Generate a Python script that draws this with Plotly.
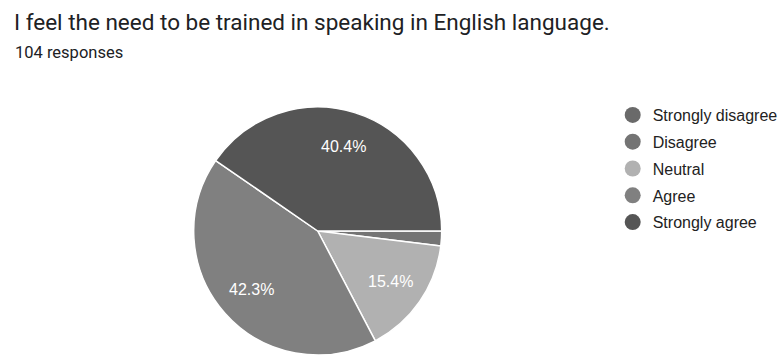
import math
import plotly.graph_objects as go

# Survey answers and response counts (104 responses in total)
labels = ["Strongly disagree", "Disagree", "Neutral", "Agree", "Strongly agree"]
counts = [0, 2, 16, 44, 42]
colors = ["#6a6a6a", "#747474", "#b1b1b1", "#808080", "#555555"]

title_text = "I feel the need to be trained in speaking in English language."
subtitle_text = "104 responses"

W, H = 783, 355
M_TOP = 107
PLOT_H = H - M_TOP
CX = 317.7              # pie centre, px from the left
R = PLOT_H / 2          # pie radius in px (domain height limited)
START_DEG = 90          # first slice starts at 3 o'clock, going clockwise

total = sum(counts)
share = [c / total for c in counts]

fig = go.Figure()

fig.add_trace(go.Pie(
    labels=labels,
    values=counts,
    textinfo="none",
    marker=dict(colors=colors, line=dict(color="#ffffff", width=1.5)),
    sort=False,
    direction="clockwise",
    rotation=START_DEG,
    showlegend=False,
    hoverinfo="label+percent",
    domain=dict(x=[(CX - 130) / W, (CX + 130) / W], y=[0, 1]),
))

# Percent labels at 70% of the radius along each slice's mid-angle
annotations = []
acc = 0.0
for s in share:
    mid = START_DEG + (acc + s / 2) * 360
    acc += s
    if s < 0.05:
        continue
    a = math.radians(mid)
    px = CX + 0.71 * R * math.sin(a)
    py_up = 0.71 * R * math.cos(a)  # upward offset from centre
    annotations.append(dict(
        text=f"{s * 100:.1f}%", xref="paper", yref="paper",
        x=px / W, y=0.5 + py_up / PLOT_H, xanchor="center", yanchor="middle",
        showarrow=False,
        font=dict(family="Liberation Sans, Arial, sans-serif", size=16, color="#ffffff"),
    ))

# Circular legend markers, one entry per answer
for lab, col in zip(labels, colors):
    fig.add_trace(go.Scatter(
        x=[None], y=[None], mode="markers", name=lab,
        marker=dict(symbol="circle", size=16, color=col),
        legendgroup=lab, showlegend=True, hoverinfo="skip",
    ))

annotations += [
    dict(text=title_text, xref="paper", yref="paper",
         x=12 / W, y=(H - 22) / PLOT_H, xanchor="left", yanchor="middle",
         showarrow=False,
         font=dict(family="Roboto, sans-serif", size=22.5, color="#202124")),
    dict(text=subtitle_text, xref="paper", yref="paper",
         x=13 / W, y=(H - 53) / PLOT_H, xanchor="left", yanchor="middle",
         showarrow=False,
         font=dict(family="Roboto, sans-serif", size=16.5, color="#202124")),
]

fig.update_layout(
    width=W, height=H,
    margin=dict(l=0, r=0, t=M_TOP, b=0),
    paper_bgcolor="#ffffff",
    plot_bgcolor="#ffffff",
    xaxis=dict(visible=False),
    yaxis=dict(visible=False),
    showlegend=True,
    legend=dict(
        x=(652.7 - 40) / W, xanchor="left",
        y=(H - 98) / PLOT_H, yanchor="top",
        font=dict(family="Liberation Sans, Arial, sans-serif", size=16, color="#222222"),
        tracegroupgap=3,
        bgcolor="rgba(0,0,0,0)",
    ),
    annotations=annotations,
)

fig.write_html("out.html")
